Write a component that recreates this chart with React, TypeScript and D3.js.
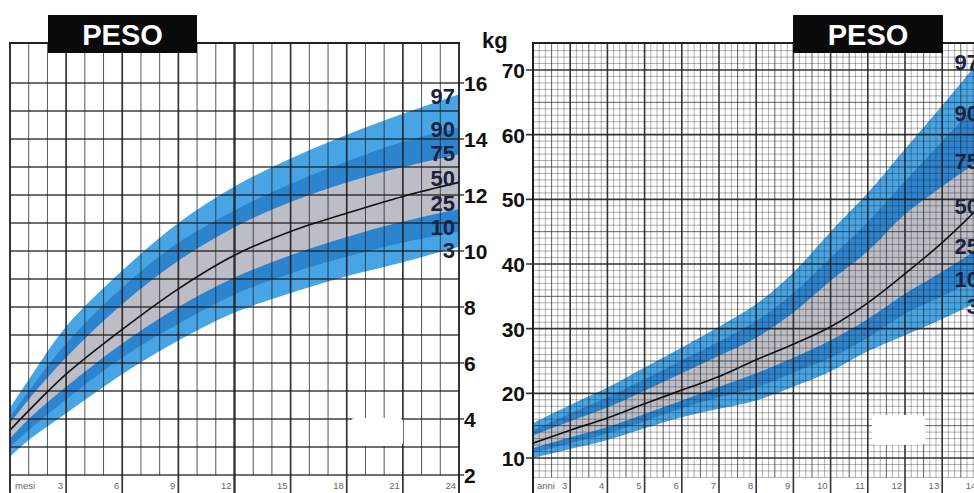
import React from 'react';
import * as d3 from 'd3';

// ---------- Left chart: 0-24 months ----------
const monthsL = [0, 1, 3, 6, 9, 12, 15, 18, 21, 24];
const p97L = [4.4, 5.4, 7.3, 9.3, 11.0, 12.3, 13.3, 14.15, 14.9, 15.6];
const p90L = [4.07, 5.0, 6.7, 8.7, 10.3, 11.45, 12.4, 13.2, 13.9, 14.4];
const p75L = [3.85, 4.7, 6.2, 8.1, 9.65, 10.85, 11.75, 12.45, 13.0, 13.45];
const p50L = [3.6, 4.3, 5.6, 7.2, 8.65, 9.85, 10.7, 11.35, 11.95, 12.45];
const p25L = [3.3, 4.0, 5.15, 6.7, 8.0, 9.05, 9.85, 10.5, 11.05, 11.5];
const p10L = [3.0, 3.6, 4.7, 6.2, 7.4, 8.45, 9.2, 9.8, 10.3, 10.7];
const p3L = [2.65, 3.25, 4.2, 5.6, 6.8, 7.8, 8.5, 9.1, 9.6, 10.15];
const kgTicksL = [2, 4, 6, 8, 10, 12, 14, 16];
const monthTicks = [3, 6, 9, 12, 15, 18, 21, 24];

// ---------- Right chart: 2-14 years ----------
const agesR = [2, 3, 4, 5, 6, 7, 8, 9, 10, 11, 12, 13, 14];
const p97R = [15.4, 18.2, 20.9, 24.0, 27.1, 30.3, 33.8, 38.7, 45.0, 51.0, 57.8, 64.5, 71.5];
const p90R = [14.3, 16.9, 19.4, 22.2, 25.1, 28.0, 31.2, 35.5, 41.0, 46.5, 52.8, 59.0, 65.0];
const p75R = [13.5, 15.7, 17.8, 20.4, 23.1, 25.8, 28.6, 32.5, 37.4, 42.0, 47.7, 52.0, 56.0];
const p50R = [12.3, 14.3, 16.2, 18.4, 20.5, 22.6, 25.2, 27.6, 30.3, 34.0, 38.5, 43.3, 48.8];
const p25R = [11.5, 13.2, 14.8, 16.8, 18.9, 21.0, 23.1, 25.5, 28.2, 31.5, 35.4, 38.8, 42.5];
const p10R = [10.8, 12.3, 13.8, 15.7, 17.7, 19.4, 20.9, 23.2, 25.5, 28.6, 32.3, 35.0, 38.0];
const p3R = [10.0, 11.4, 12.8, 14.6, 16.3, 17.6, 18.9, 21.0, 23.4, 26.5, 29.0, 31.5, 34.2];
const kgTicksR = [10, 20, 30, 40, 50, 60, 70];
const ageTicks = [3, 4, 5, 6, 7, 8, 9, 10, 11, 12, 13, 14];

const percLabels = ['97', '90', '75', '50', '25', '10', '3'];
const labelKgL = [15.55, 14.35, 13.5, 12.6, 11.7, 10.85, 10.05];
const labelKgR = [71.3, 63.3, 55.9, 48.9, 42.8, 37.7, 33.5];

const W = 974;
const H = 493;
const LIGHT = '#47a5e6';
const DARK = '#2c84cf';
const GREY = '#bdbdc7';
const FONT = "'Liberation Sans', Arial, sans-serif";

const xL = d3.scaleLinear().domain([0, 24]).range([10, 459]);
const yL = d3.scaleLinear().domain([2, 16]).range([475, 83]);
const xR = d3.scaleLinear().domain([2, 14]).range([533, 533 + 12 * 37.2]);
const yR = d3.scaleLinear().domain([10, 70]).range([458, 70]);

const CURVE = d3.curveCatmullRom.alpha(0.5);

function bandPath(xs: number[], hi: number[], lo: number[], sx: any, sy: any) {
  const rows = xs.map((x, i) => ({ x, hi: hi[i], lo: lo[i] }));
  return (
    d3
      .area<any>()
      .x((d) => sx(d.x))
      .y0((d) => sy(d.lo))
      .y1((d) => sy(d.hi))
      .curve(CURVE)(rows) || ''
  );
}

function linePath(xs: number[], v: number[], sx: any, sy: any) {
  const rows = xs.map((x, i) => ({ x, v: v[i] }));
  return (
    d3
      .line<any>()
      .x((d) => sx(d.x))
      .y((d) => sy(d.v))
      .curve(CURVE)(rows) || ''
  );
}

export default function App() {
  const gridCol = '#1f1f1f';
  const leftTop = 43;

  // Left grid
  const leftV = d3.range(0, 25).map((m) => {
    const major = m % 3 === 0;
    const w = m === 12 ? 2.4 : m === 0 || m === 24 ? 2 : major ? 1.7 : 1.0;
    return (
      <line
        key={'lv' + m}
        x1={xL(m)}
        x2={xL(m)}
        y1={leftTop}
        y2={major ? H : yL(2)}
        stroke={gridCol}
        strokeWidth={w}
        strokeOpacity={major ? 0.9 : 0.75}
      />
    );
  });
  const leftH = d3.range(2, 17).map((k) => (
    <line
      key={'lh' + k}
      x1={xL(0)}
      x2={k % 2 === 0 ? xL(24) + 5 : xL(24)}
      y1={yL(k)}
      y2={yL(k)}
      stroke={gridCol}
      strokeWidth={k % 2 === 0 ? 1.7 : 1.3}
      strokeOpacity={0.85}
    />
  ));

  // Right grid
  const rightV = d3.range(0, 73).map((i) => {
    const a = 2 + i / 6;
    const major = i % 6 === 0;
    const mid = i % 3 === 0;
    return (
      <line
        key={'rv' + i}
        x1={xR(a)}
        x2={xR(a)}
        y1={leftTop}
        y2={major ? H : yR(7)}
        stroke={gridCol}
        strokeWidth={major ? 1.6 : mid ? 1.0 : 0.7}
        strokeOpacity={major ? 0.9 : mid ? 0.7 : 0.5}
      />
    );
  });
  const rightH = d3.range(7, 74).map((k) => {
    const major = k % 10 === 0;
    const mid = k % 5 === 0;
    return (
      <line
        key={'rh' + k}
        x1={major ? xR(2) - 7 : xR(2)}
        x2={W}
        y1={yR(k)}
        y2={yR(k)}
        stroke={gridCol}
        strokeWidth={major ? 1.6 : mid ? 1.0 : 0.7}
        strokeOpacity={major ? 0.9 : mid ? 0.7 : 0.5}
      />
    );
  });

  return (
    <svg
      width={W}
      height={H}
      style={{ position: 'absolute', left: 0, top: 0, background: '#fff' }}
      fontFamily={FONT}
    >
      <defs>
        <clipPath id="clipL">
          <rect x={xL(0)} y={leftTop} width={xL(24) - xL(0)} height={yL(2) - leftTop} />
        </clipPath>
        <clipPath id="clipR">
          <rect x={xR(2)} y={leftTop} width={W - xR(2)} height={yR(7) - leftTop} />
        </clipPath>
      </defs>
      <rect x={0} y={0} width={W} height={H} fill="#fff" />

      {/* ---------- LEFT CHART ---------- */}
      <g clipPath="url(#clipL)">
        <path d={bandPath(monthsL, p97L, p3L, xL, yL)} fill={LIGHT} />
        <path d={bandPath(monthsL, p90L, p10L, xL, yL)} fill={DARK} />
        <path d={bandPath(monthsL, p75L, p25L, xL, yL)} fill={GREY} />
      </g>
      {leftV}
      {leftH}
      <line x1={xL(0) - 1} x2={xL(24) + 1} y1={leftTop} y2={leftTop} stroke={gridCol} strokeWidth={2} />
      <g clipPath="url(#clipL)">
        <path d={linePath(monthsL, p50L, xL, yL)} fill="none" stroke="#111" strokeWidth={1.6} />
      </g>
      <rect x={351} y={418} width={52} height={28} rx={4} fill="#fff" />

      {/* left month labels */}
      <text x={15} y={489} fontSize={9.5} fill="#666">mesi</text>
      {monthTicks.map((m) => (
        <text key={'mt' + m} x={xL(m) - 3} y={489} fontSize={9.5} fill="#666" textAnchor="end">
          {m}
        </text>
      ))}

      {/* left kg axis */}
      {kgTicksL.map((k) => (
        <text key={'kl' + k} x={464} y={yL(k) + 8} fontSize={21} fontWeight="bold" fill="#111">
          {k}
        </text>
      ))}
      <text x={482} y={48} fontSize={22} fontWeight="bold" fill="#111">kg</text>

      {/* left percentile labels */}
      {percLabels.map((p, i) => (
        <text
          key={'pl' + p}
          x={455}
          y={yL(labelKgL[i]) + 8}
          fontSize={22}
          fontWeight="bold"
          fill="#1b2240"
          textAnchor="end"
        >
          {p}
        </text>
      ))}

      {/* left title */}
      <rect x={48} y={15} width={149} height={38} fill="#0a0a0a" />
      <text x={122.5} y={44.5} fontSize={29} fontWeight="bold" fill="#fff" textAnchor="middle">PESO</text>

      {/* ---------- RIGHT CHART ---------- */}
      <g clipPath="url(#clipR)">
        <path d={bandPath(agesR, p97R, p3R, xR, yR)} fill={LIGHT} />
        <path d={bandPath(agesR, p90R, p10R, xR, yR)} fill={DARK} />
        <path d={bandPath(agesR, p75R, p25R, xR, yR)} fill={GREY} />
      </g>
      {rightV}
      {rightH}
      <line x1={xR(2) - 1} x2={W} y1={leftTop} y2={leftTop} stroke={gridCol} strokeWidth={2} />
      <line x1={xR(2)} x2={xR(2)} y1={leftTop} y2={H} stroke={gridCol} strokeWidth={2} />
      <g clipPath="url(#clipR)">
        <path d={linePath(agesR, p50R, xR, yR)} fill="none" stroke="#111" strokeWidth={1.6} />
      </g>
      <rect x={872} y={415} width={53} height={30} rx={4} fill="#fff" />

      {/* right age labels */}
      <text x={537} y={489} fontSize={9.5} fill="#666">anni</text>
      {ageTicks.map((a) => (
        <text key={'at' + a} x={xR(a) - 3} y={489} fontSize={9.5} fill="#666" textAnchor="end">
          {a}
        </text>
      ))}

      {/* right kg axis */}
      {kgTicksR.map((k) => (
        <text key={'kr' + k} x={525} y={yR(k) + 8} fontSize={21} fontWeight="bold" fill="#111" textAnchor="end">
          {k}
        </text>
      ))}

      {/* right percentile labels */}
      {percLabels.map((p, i) => (
        <text
          key={'pr' + p}
          x={979}
          y={yR(labelKgR[i]) + 8}
          fontSize={22}
          fontWeight="bold"
          fill="#1b2240"
          textAnchor="end"
        >
          {p}
        </text>
      ))}

      {/* right title */}
      <rect x={793} y={15} width={150} height={38} fill="#0a0a0a" />
      <text x={868} y={44.5} fontSize={29} fontWeight="bold" fill="#fff" textAnchor="middle">PESO</text>
    </svg>
  );
}
